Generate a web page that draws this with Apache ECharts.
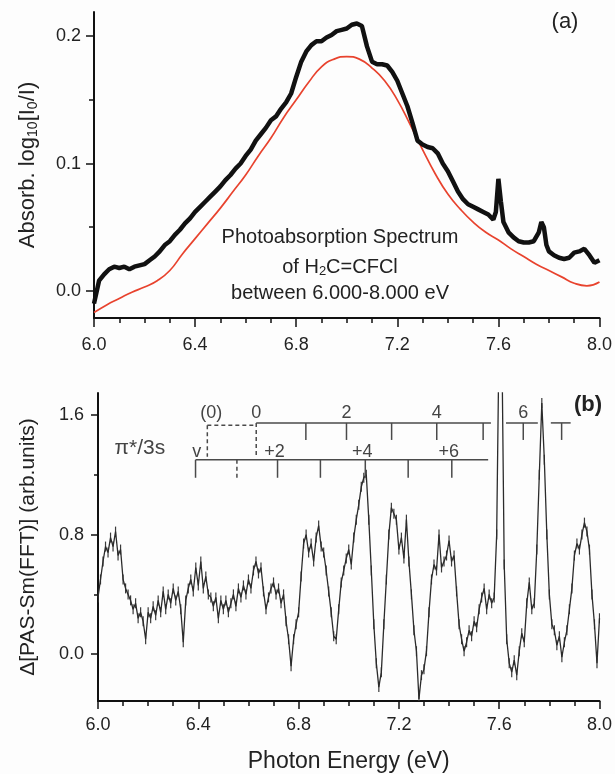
<!DOCTYPE html>
<html><head><meta charset="utf-8">
<script src="https://cdn.jsdelivr.net/npm/echarts@6/dist/echarts.min.js"></script>
<style>html,body{margin:0;padding:0;background:#fdfdfd}#c{width:615px;height:774px}</style>
</head><body><div id="c"></div><script>
const FF = "'Liberation Sans', Arial, sans-serif";

// ---- Panel (a): photoabsorption spectrum ----
const topEnergy = [6.00,6.02,6.04,6.06,6.08,6.10,6.12,6.14,6.16,6.18,6.20,6.22,6.24,6.26,6.28,6.30,6.32,6.34,6.36,6.38,
  6.40,6.42,6.44,6.46,6.48,6.50,6.52,6.54,6.56,6.58,6.60,6.62,6.64,6.66,6.68,6.70,6.72,6.74,6.76,6.78,
  6.80,6.82,6.84,6.86,6.88,6.90,6.92,6.94,6.96,6.98,7.00,7.02,7.04,7.06,7.08,7.10,7.12,7.14,7.16,7.18,
  7.20,7.22,7.24,7.26,7.28,7.30,7.32,7.34,7.36,7.38,7.40,7.42,7.44,7.46,7.48,7.50,7.52,7.54,7.56,7.58,
  7.59,7.60,7.61,7.62,7.64,7.66,7.68,7.70,7.72,7.74,7.76,7.77,7.78,7.79,7.80,7.82,7.84,7.86,7.88,7.90,
  7.92,7.94,7.96,7.98,8.00];
const topAbs = [-0.010,0.008,0.013,0.017,0.019,0.018,0.019,0.017,0.019,0.020,0.021,0.024,0.027,0.031,0.036,0.039,0.044,0.048,0.053,0.057,
  0.062,0.066,0.070,0.074,0.078,0.082,0.087,0.091,0.096,0.100,0.106,0.111,0.118,0.123,0.128,0.134,0.137,0.143,0.148,0.155,
  0.168,0.180,0.188,0.193,0.196,0.196,0.199,0.201,0.204,0.205,0.206,0.209,0.210,0.208,0.192,0.180,0.178,0.178,0.177,0.172,
  0.165,0.155,0.145,0.132,0.118,0.115,0.113,0.112,0.108,0.100,0.094,0.086,0.078,0.072,0.068,0.066,0.064,0.062,0.060,0.056,
  0.062,0.088,0.070,0.054,0.046,0.042,0.039,0.038,0.038,0.039,0.046,0.054,0.050,0.036,0.031,0.028,0.026,0.025,0.026,0.030,
  0.031,0.033,0.028,0.022,0.024];
const fitEnergy = [6.00,6.05,6.10,6.15,6.20,6.25,6.30,6.35,6.40,6.45,6.50,6.55,6.60,6.65,6.70,6.75,6.80,6.85,6.90,6.95,
  7.00,7.05,7.10,7.15,7.20,7.25,7.30,7.35,7.40,7.45,7.50,7.55,7.60,7.65,7.70,7.75,7.80,7.85,7.90,7.95,8.00];
const fitAbs = [-0.017,-0.011,-0.006,-0.001,0.003,0.008,0.016,0.029,0.041,0.053,0.065,0.078,0.091,0.106,0.120,0.136,0.150,0.164,0.176,0.182,
  0.184,0.182,0.175,0.165,0.150,0.131,0.111,0.092,0.076,0.064,0.054,0.046,0.040,0.033,0.027,0.021,0.016,0.011,0.006,0.004,0.007];
const topYTicks = [0, 0.1, 0.2];
const topYMinor = [0.05, 0.15];

// ---- Panel (b): difference spectrum ----
const bEnergy = [6.00,6.01,6.02,6.03,6.04,6.05,6.06,6.07,6.08,6.09,6.10,6.11,6.12,6.13,6.14,6.15,6.16,6.17,6.18,6.19,
  6.20,6.21,6.22,6.23,6.24,6.25,6.26,6.27,6.28,6.29,6.30,6.31,6.32,6.33,6.34,6.35,6.36,6.37,6.38,6.39,
  6.40,6.41,6.42,6.43,6.44,6.45,6.46,6.47,6.48,6.49,6.50,6.51,6.52,6.53,6.54,6.55,6.56,6.57,6.58,6.59,
  6.60,6.61,6.62,6.63,6.64,6.65,6.66,6.67,6.68,6.69,6.70,6.71,6.72,6.73,6.74,6.75,6.76,6.77,6.78,6.79,
  6.80,6.81,6.82,6.83,6.84,6.85,6.86,6.87,6.88,6.89,6.90,6.91,6.92,6.93,6.94,6.95,6.96,6.97,6.98,6.99,
  7.00,7.01,7.02,7.03,7.04,7.05,7.06,7.07,7.08,7.09,7.10,7.11,7.12,7.13,7.14,7.15,7.16,7.17,7.18,7.19,
  7.20,7.21,7.22,7.23,7.24,7.25,7.26,7.27,7.28,7.29,7.30,7.31,7.32,7.33,7.34,7.35,7.36,7.37,7.38,7.39,
  7.40,7.41,7.42,7.43,7.44,7.45,7.46,7.47,7.48,7.49,7.50,7.51,7.52,7.53,7.54,7.55,7.56,7.57,7.58,7.59,
  7.60,7.61,7.62,7.63,7.64,7.65,7.66,7.67,7.68,7.69,7.70,7.71,7.72,7.73,7.74,7.75,7.76,7.77,7.78,7.79,
  7.80,7.81,7.82,7.83,7.84,7.85,7.86,7.87,7.88,7.89,7.90,7.91,7.92,7.93,7.94,7.95,7.96,7.97,7.98,7.99,8.00];
const bSignal = [0.38,0.50,0.62,0.72,0.68,0.78,0.72,0.82,0.66,0.70,0.50,0.44,0.40,0.36,0.30,0.34,0.24,0.28,0.22,0.10,
  0.28,0.24,0.32,0.26,0.36,0.28,0.42,0.30,0.40,0.34,0.44,0.36,0.42,0.30,0.08,0.36,0.44,0.50,0.42,0.58,
  0.46,0.62,0.44,0.52,0.40,0.38,0.32,0.38,0.24,0.36,0.30,0.36,0.28,0.34,0.40,0.32,0.44,0.38,0.46,0.40,
  0.50,0.44,0.56,0.62,0.54,0.58,0.42,0.30,0.38,0.44,0.48,0.40,0.44,0.34,0.40,0.22,0.10,-0.08,0.10,0.20,
  0.28,0.52,0.74,0.80,0.68,0.74,0.62,0.78,0.86,0.72,0.68,0.56,0.42,0.28,0.12,0.10,0.30,0.48,0.56,0.64,
  0.70,0.60,0.78,0.90,1.00,1.12,1.18,1.20,0.90,0.56,0.20,-0.06,-0.22,-0.12,0.20,0.50,0.80,0.98,0.94,0.90,
  0.70,0.78,0.64,0.90,0.62,0.40,0.16,0.02,-0.30,-0.14,-0.10,0.02,0.28,0.50,0.60,0.56,0.80,0.58,0.62,0.66,
  0.76,0.62,0.66,0.42,0.20,0.10,0.02,0.08,0.16,0.12,0.22,0.18,0.30,0.38,0.44,0.30,0.40,0.34,0.38,0.80,
  2.20,2.20,0.60,0.10,-0.06,-0.12,-0.04,-0.14,0.02,0.14,0.08,0.34,0.48,0.30,0.34,0.70,1.20,1.68,1.30,0.80,
  0.40,0.20,0.16,0.06,0.12,-0.02,0.08,0.16,0.30,0.44,0.66,0.74,0.70,0.80,0.88,0.82,0.70,0.40,0.20,-0.06,0.24];
const bYTicks = [0, 0.8, 1.6];
const bYMinor = [0.4, 1.2];

// ---- Vibrational progression ladders (pi*/3s) ----
const upperLevelE = [6.631, 6.829, 6.991, 7.171, 7.351, 7.536, 7.696, 7.849];
const upperLevelLabel = ['0', '', '2', '', '4', '', '6', ''];
const upperSegments = [[6.631, 7.567], [7.627, 7.754], [7.806, 7.885]];
const upperOriginE = 6.436;
const lowerLevelE = [6.389, 6.554, 6.716, 6.887, 7.066, 7.237, 7.411];
const lowerLevelLabel = ['', '', '+2', '', '+4', '', '+6'];
const lowerSegment = [6.389, 7.556];

const zip = (a, b) => a.map((x, i) => [x, b[i]]);
const chart = echarts.init(document.getElementById('c'));

const yU = 1.547, yUT = 1.433, yL = 1.30, yLT = 1.18, yDash = 1.32, yULab = 1.613, yLLab = 1.353;
function renderLadder(params, api) {
  const ch = [];
  const P = (e, v) => api.coord([e, v]);
  const ln = (a, b, dash) => ({type: 'line', shape: {x1: a[0], y1: a[1], x2: b[0], y2: b[1]},
    style: {stroke: '#4a4a4a', lineWidth: 1.5, lineDash: dash ? [4, 3] : null}});
  const tx = (t, p, fs) => ({type: 'text', style: {text: t, x: p[0], y: p[1], align: 'center', verticalAlign: 'middle',
    fontSize: fs || 18, fontFamily: FF, fill: '#444'}});
  upperSegments.forEach(s => ch.push(ln(P(s[0], yU), P(s[1], yU))));
  upperLevelE.forEach((e, i) => {
    if (i === 0) ch.push(ln(P(e, yU), P(e, yDash), true));
    else ch.push(ln(P(e, yU), P(e, yUT)));
    if (upperLevelLabel[i]) ch.push(tx(upperLevelLabel[i], P(e, yULab)));
  });
  ch.push(ln(P(upperOriginE, yU - 0.015), P(upperLevelE[0], yU - 0.015), true));
  ch.push(ln(P(upperOriginE, yU - 0.015), P(upperOriginE, yDash), true));
  ch.push(tx('(0)', P(upperOriginE + 0.016, yULab)));
  ch.push(ln(P(lowerSegment[0], yL), P(lowerSegment[1], yL)));
  lowerLevelE.forEach((e, i) => {
    ch.push(ln(P(e, yL), P(e, yLT), i === 1));
    if (lowerLevelLabel[i]) ch.push(tx(lowerLevelLabel[i], P(e - 0.012, yLLab)));
  });
  ch.push(tx('v', P(lowerSegment[0] + 0.005, yLLab)));
  ch.push(tx('π*/3s', P(6.167, 1.38), 21));
  return {type: 'group', children: ch};
}

// vertical error-bar marks at each point of panel (b)
function renderBars(params, api) {
  const p = api.coord([api.value(0), api.value(1)]);
  return {type: 'line', shape: {x1: p[0], y1: p[1] - 5, x2: p[0], y2: p[1] + 5},
    style: {stroke: '#3a3a3a', lineWidth: 1.2}};
}

const axisLineStyle = {color: '#111', width: 2};
const tickStyle = {color: '#111', width: 1.5};
const lab = (m) => ({fontSize: 18, color: '#222', fontFamily: FF, margin: m});

chart.setOption({
  backgroundColor: '#fdfdfd',
  animation: false,
  grid: [
    {left: 94, top: 12, width: 506, height: 306},
    {left: 98, top: 393, width: 504, height: 309}
  ],
  xAxis: [
    {gridIndex: 0, type: 'value', min: 6, max: 8, interval: 0.4,
     axisLine: {onZero: false, lineStyle: axisLineStyle}, axisTick: {length: 9, lineStyle: tickStyle},
     minorTick: {show: true, splitNumber: 4, length: 5, lineStyle: tickStyle},
     axisLabel: Object.assign(lab(18), {formatter: v => v.toFixed(1)}), splitLine: {show: false}},
    {gridIndex: 1, type: 'value', min: 6, max: 8, interval: 0.4,
     axisLine: {onZero: false, lineStyle: axisLineStyle}, axisTick: {length: 8, lineStyle: tickStyle},
     minorTick: {show: true, splitNumber: 4, length: 5, lineStyle: tickStyle},
     axisLabel: Object.assign(lab(15), {formatter: v => v.toFixed(1)}), splitLine: {show: false},
     name: 'Photon Energy (eV)', nameLocation: 'middle', nameGap: 49,
     nameTextStyle: {fontSize: 23, color: '#222', fontFamily: FF}}
  ],
  yAxis: [
    {gridIndex: 0, type: 'value', min: -0.0213, max: 0.219,
     axisLine: {onZero: false, lineStyle: axisLineStyle},
     axisTick: {length: 8, lineStyle: tickStyle, customValues: topYTicks},
     axisLabel: Object.assign(lab(13), {customValues: topYTicks, formatter: v => v.toFixed(1)}),
     splitLine: {show: false},
     name: 'Absorb. log{s|10}[I{s|0}/I)', nameLocation: 'middle', nameRotate: 90, nameGap: 54,
     nameTextStyle: {fontSize: 22, color: '#222', fontFamily: FF, lineHeight: 24,
       rich: {s: {fontSize: 14, color: '#222', fontFamily: FF, lineHeight: 12, verticalAlign: 'bottom'}}}},
    {gridIndex: 0, type: 'value', min: -0.0213, max: 0.219, position: 'left',
     axisLine: {show: false, onZero: false}, axisLabel: {show: false}, splitLine: {show: false},
     axisTick: {length: 5, lineStyle: tickStyle, customValues: topYMinor}},
    {gridIndex: 1, type: 'value', min: -0.313, max: 1.747,
     axisLine: {onZero: false, lineStyle: axisLineStyle},
     axisTick: {length: 7, lineStyle: tickStyle, customValues: bYTicks},
     axisLabel: Object.assign(lab(14), {customValues: bYTicks, formatter: v => v.toFixed(1)}),
     splitLine: {show: false},
     name: 'Δ[PAS-Sm(FFT)] (arb.units)', nameLocation: 'middle', nameRotate: 90, nameGap: 59,
     nameTextStyle: {fontSize: 21, color: '#222', fontFamily: FF}},
    {gridIndex: 1, type: 'value', min: -0.313, max: 1.747, position: 'left',
     axisLine: {show: false, onZero: false}, axisLabel: {show: false}, splitLine: {show: false},
     axisTick: {length: 4, lineStyle: tickStyle, customValues: bYMinor}}
  ],
  series: [
    {type: 'line', xAxisIndex: 0, yAxisIndex: 0, data: zip(fitEnergy, fitAbs), smooth: true, showSymbol: false,
     lineStyle: {color: '#e8432e', width: 1.7}, z: 2},
    {type: 'line', xAxisIndex: 0, yAxisIndex: 0, data: zip(topEnergy, topAbs), showSymbol: false,
     lineStyle: {color: '#111', width: 4.5}, z: 3},
    {type: 'line', xAxisIndex: 1, yAxisIndex: 2, data: zip(bEnergy, bSignal), showSymbol: false,
     lineStyle: {color: '#2b2b2b', width: 1.3}, z: 3},
    {type: 'custom', xAxisIndex: 1, yAxisIndex: 2, data: zip(bEnergy, bSignal), renderItem: renderBars,
     silent: true, clip: true, z: 3},
    {type: 'custom', xAxisIndex: 1, yAxisIndex: 2, data: [[6, 0]], renderItem: renderLadder, silent: true, z: 4}
  ],
  graphic: [
    {type: 'text', x: 340, y: 237, style: {text: 'Photoabsorption Spectrum', align: 'center', verticalAlign: 'middle',
      fontSize: 20, fontFamily: FF, fill: '#222'}},
    {type: 'text', x: 340, y: 267, style: {text: 'of H{s|2}C=CFCl', align: 'center', verticalAlign: 'middle',
      fontSize: 20, fontFamily: FF, fill: '#222', lineHeight: 22,
      rich: {s: {fontSize: 13, fontFamily: FF, fill: '#222', lineHeight: 10, verticalAlign: 'bottom'}}}},
    {type: 'text', x: 340, y: 293, style: {text: 'between 6.000-8.000 eV', align: 'center', verticalAlign: 'middle',
      fontSize: 20, fontFamily: FF, fill: '#222'}},
    {type: 'text', x: 565, y: 22, style: {text: '(a)', align: 'center', verticalAlign: 'middle',
      fontSize: 22, fontFamily: FF, fill: '#222'}},
    {type: 'text', x: 588, y: 405, style: {text: '(b)', align: 'center', verticalAlign: 'middle',
      fontSize: 22, fontWeight: 'bold', fontFamily: FF, fill: '#222'}}
  ]
});
</script></body></html>
